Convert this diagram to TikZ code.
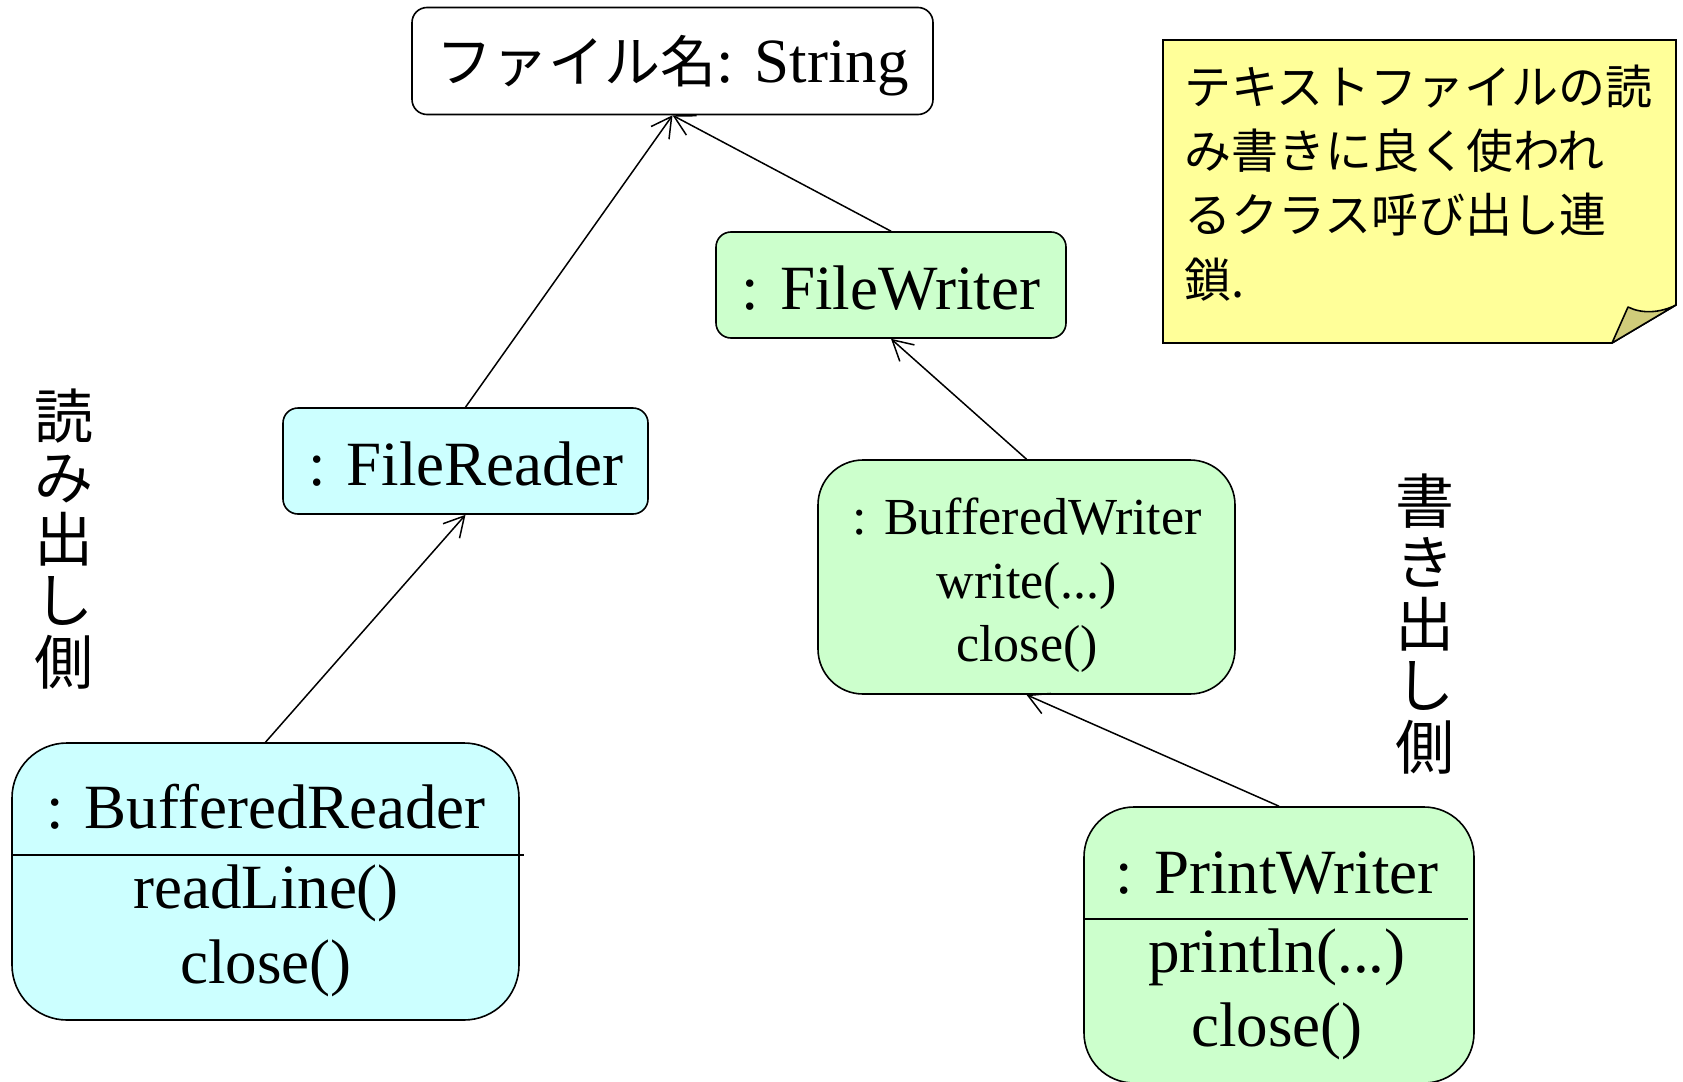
\documentclass[tikz,border=0pt]{standalone}
\usepackage{fontspec}
\setmainfont{Liberation Serif}
\newfontfamily\jp{Noto Sans CJK JP}
\usetikzlibrary{arrows.meta}
\definecolor{readfill}{HTML}{CCFFFF}
\definecolor{writefill}{HTML}{CCFFCC}
\definecolor{notefill}{HTML}{FFFF99}
\definecolor{foldfill}{RGB}{208,204,122}

\begin{document}
\begin{tikzpicture}[x=1pt,y=-1pt,
  objbox/.style={draw=black, line width=1.6pt, inner sep=0pt, anchor=center},
  bigtext/.style={inner sep=0pt, anchor=base, font=\fontsize{63}{70}\selectfont},
  midtext/.style={inner sep=0pt, anchor=base, font=\fontsize{52}{60}\selectfont},
  sidelabel/.style={inner sep=0pt, align=center, font=\jp\fontsize{59}{61.5}\selectfont},
  conn/.style={line width=1.5pt, -{Straight Barb[length=20pt,width=22pt,line width=1.5pt]}},
  divider/.style={line width=1.6pt}
]
\useasboundingbox (0,0) rectangle (1683,1081);

% object boxes
\node[objbox, fill=white, rounded corners=15pt, minimum width=521pt, minimum height=107pt] (str) at (672.5,61) {};
\node[objbox, fill=writefill, rounded corners=15pt, minimum width=350pt, minimum height=106pt] (fw) at (891,285) {};
\node[objbox, fill=readfill, rounded corners=15pt, minimum width=365pt, minimum height=106pt] (fr) at (465.5,461) {};
\node[objbox, fill=writefill, rounded corners=45pt, minimum width=417pt, minimum height=234pt] (bw) at (1026.5,577) {};
\node[objbox, fill=readfill, rounded corners=55pt, minimum width=507pt, minimum height=277pt] (br) at (265.5,881.5) {};
\node[objbox, fill=writefill, rounded corners=50pt, minimum width=390pt, minimum height=276pt] (pw) at (1279,945) {};

% compartment dividers
\draw[divider] (12,855) -- (524,855);
\draw[divider] (1084,919) -- (1468,919);

% labels
\node[bigtext] (strlbl) at (672.5,82) {{\jp\fontsize{56}{60}\selectfont ファイル名}: String};
\node[bigtext] (fwlbl) at (891,309) {: FileWriter};
\node[bigtext] (frlbl) at (465.5,485) {: FileReader};
\node[midtext] (bwlbl1) at (1027,534) {: BufferedWriter};
\node[midtext] (bwlbl2) at (1027,598) {write(...)};
\node[midtext] (bwlbl3) at (1027,661) {close()};
\node[bigtext] (brlbl1) at (266,828) {: BufferedReader};
\node[bigtext] (brlbl2) at (266,908) {readLine()};
\node[bigtext] (brlbl3) at (266,983) {close()};
\node[bigtext] (pwlbl1) at (1277,893) {: PrintWriter};
\node[bigtext] (pwlbl2) at (1277,972) {println(...)};
\node[bigtext] (pwlbl3) at (1277,1046) {close()};

% side captions
\node[sidelabel] (readside) at (64,539) {読\\み\\出\\し\\側};
\node[sidelabel] (writeside) at (1425,624) {書\\き\\出\\し\\側};

% note with folded corner
\draw[fill=notefill, line width=1.6pt] (1163,40) -- (1676,40) -- (1676,305) -- (1612,343) -- (1163,343) -- cycle;
\draw[fill=foldfill, line width=1.6pt, line join=round] (1612,343) -- (1628,307) .. controls (1642,314) and (1660,313) .. (1676,305) -- cycle;
\node[inner sep=0pt, anchor=base west, align=left, font=\jp\fontsize{47}{64.3}\selectfont] (notetext) at (1184,297)
  {テキストファイルの読\\み書きに良く使われ\\るクラス呼び出し連\\鎖.};

% call chain
\draw[conn] (fr.north) -- (str.south);
\draw[conn] (fw.north) -- (str.south);
\draw[conn] (br.north) -- (fr.south);
\draw[conn] (bw.north) -- (fw.south);
\draw[conn] (pw.north) -- (bw.south);
\end{tikzpicture}
\end{document}
